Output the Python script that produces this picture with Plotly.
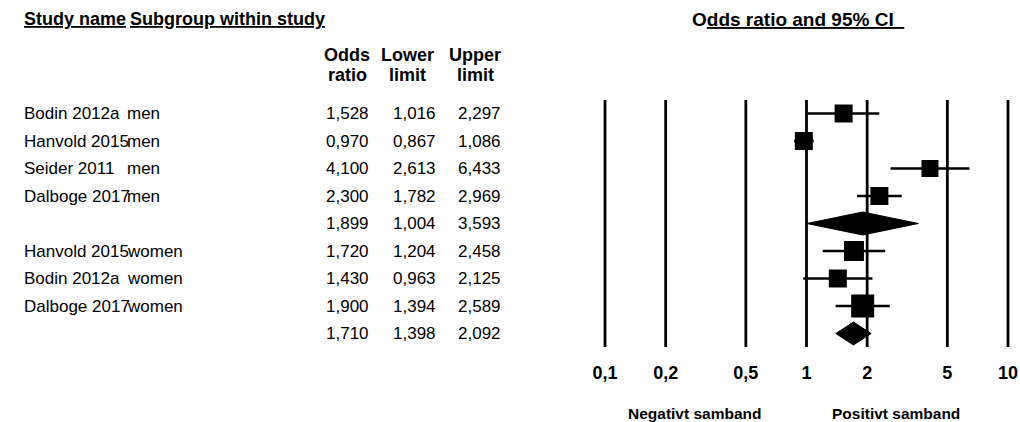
import plotly.graph_objects as go

# ---------------- data ----------------
study_names = ["Bodin 2012a", "Hanvold 2015", "Seider 2011", "Dalboge 2017", "",
               "Hanvold 2015", "Bodin 2012a", "Dalboge 2017", ""]
subgroups = ["men", "men", "men", "men", "", "women", "women", "women", ""]
odds_ratio = [1.528, 0.970, 4.100, 2.300, 1.899, 1.720, 1.430, 1.900, 1.710]
lower_limit = [1.016, 0.867, 2.613, 1.782, 1.004, 1.204, 0.963, 1.394, 1.398]
upper_limit = [2.297, 1.086, 6.433, 2.969, 3.593, 2.458, 2.125, 2.589, 2.092]
is_summary = [False, False, False, False, True, False, False, False, True]
weights_px = [18, 18, 17, 18, 0, 20, 18, 23, 0]  # square marker sizes
tick_vals = [0.1, 0.2, 0.5, 1, 2, 5, 10]
tick_text = ["0,1", "0,2", "0,5", "1", "2", "5", "10"]
col_head_top = ["Odds", "Lower", "Upper"]
col_head_bot = ["ratio", "limit", "limit"]

W, H = 1020, 422
PLOT_BOTTOM = 360  # px
ROW0 = 113.5
ROWSTEP = 27.5
top_val = -ROW0 / ROWSTEP
bot_val = top_val + PLOT_BOTTOM / ROWSTEP

# x axis in log units mapped so 0.1 -> 605px, 10 -> 1008px
px_per_dec = (1008 - 605) / 2.0
xa = -1 - 605 / px_per_dec
xb = xa + W / px_per_dec

FONT = "Liberation Sans, Arial, sans-serif"


def fmt(v):
    return f"{v:.3f}".replace(".", ",")


def xp(px):
    return px / W


def yp(px):
    return (PLOT_BOTTOM - px) / PLOT_BOTTOM


fig = go.Figure()

# vertical reference lines
lx, ly = [], []
y_top = (100 - ROW0) / ROWSTEP
y_bot = (347 - ROW0) / ROWSTEP
for v in tick_vals:
    lx += [v, v, None]
    ly += [y_top, y_bot, None]
fig.add_trace(go.Scatter(x=lx, y=ly, mode="lines",
                         line=dict(color="black", width=2.8),
                         hoverinfo="skip", showlegend=False))

# CI lines for studies
cx, cy = [], []
for i in range(len(odds_ratio)):
    if not is_summary[i]:
        cx += [lower_limit[i], upper_limit[i], None]
        cy += [i, i, None]
fig.add_trace(go.Scatter(x=cx, y=cy, mode="lines",
                         line=dict(color="black", width=2.6),
                         hoverinfo="skip", showlegend=False))

# squares
sx = [odds_ratio[i] for i in range(len(odds_ratio)) if not is_summary[i]]
sy = [i for i in range(len(odds_ratio)) if not is_summary[i]]
ss = [weights_px[i] for i in range(len(odds_ratio)) if not is_summary[i]]
fig.add_trace(go.Scatter(x=sx, y=sy, mode="markers",
                         marker=dict(symbol="square", size=ss, color="black",
                                     opacity=1, line=dict(width=0)),
                         showlegend=False))

# summary diamonds
for i in range(len(odds_ratio)):
    if is_summary[i]:
        h = 11.5 / ROWSTEP
        fig.add_trace(go.Scatter(
            x=[lower_limit[i], odds_ratio[i], upper_limit[i], odds_ratio[i], lower_limit[i]],
            y=[i, i - h, i, i + h, i],
            mode="lines", fill="toself", fillcolor="black",
            line=dict(color="black", width=1), showlegend=False, hoverinfo="skip"))

ann = []
# table rows
for i in range(len(odds_ratio)):
    if study_names[i]:
        ann.append(dict(x=xp(22), y=i, xref="paper", yref="y", text=study_names[i],
                        xanchor="left", yanchor="middle", showarrow=False))
    if subgroups[i]:
        ann.append(dict(x=xp(125), y=i, xref="paper", yref="y", text=subgroups[i],
                        xanchor="left", yanchor="middle", showarrow=False))
    for col_x, arr in ((371, odds_ratio), (438, lower_limit), (503, upper_limit)):
        ann.append(dict(x=xp(col_x), y=i, xref="paper", yref="y", text=fmt(arr[i]),
                        xanchor="right", yanchor="middle", showarrow=False))

# headers
ann.append(dict(x=xp(22), y=yp(19), xref="paper", yref="paper",
                text="<b><u>Study name</u></b>", xanchor="left", yanchor="middle",
                showarrow=False, font=dict(size=18)))
ann.append(dict(x=xp(128), y=yp(19), xref="paper", yref="paper",
                text="<b><u>Subgroup within study</u></b>", xanchor="left", yanchor="middle",
                showarrow=False, font=dict(size=18)))
ann.append(dict(x=xp(690), y=yp(19), xref="paper", yref="paper",
                text="<b>O<u>dds ratio and 95% CI  </u></b>", xanchor="left", yanchor="middle",
                showarrow=False, font=dict(size=19)))
for cx_, t1, t2 in zip((347, 407, 475), col_head_top, col_head_bot):
    ann.append(dict(x=xp(cx_), y=yp(55), xref="paper", yref="paper",
                    text=f"<b>{t1}</b>", xanchor="center", yanchor="middle",
                    showarrow=False, font=dict(size=18)))
    ann.append(dict(x=xp(cx_), y=yp(75), xref="paper", yref="paper",
                    text=f"<b>{t2}</b>", xanchor="center", yanchor="middle",
                    showarrow=False, font=dict(size=18)))

ann.append(dict(x=xp(695), y=yp(413), xref="paper", yref="paper",
                text="<b>Negativt samband</b>", xanchor="center", yanchor="middle",
                showarrow=False, font=dict(size=15.5)))
ann.append(dict(x=xp(896), y=yp(413), xref="paper", yref="paper",
                text="<b>Positivt samband</b>", xanchor="center", yanchor="middle",
                showarrow=False, font=dict(size=15.5)))

fig.update_layout(
    width=W, height=H,
    margin=dict(l=0, r=0, t=0, b=H - PLOT_BOTTOM, pad=0),
    paper_bgcolor="white", plot_bgcolor="white",
    font=dict(family=FONT, size=17, color="black"),
    annotations=ann,
    showlegend=False,
    xaxis=dict(type="log", range=[xa, xb], tickvals=tick_vals, ticktext=tick_text,
               showgrid=False, zeroline=False, showline=False, ticks="",
               tickfont=dict(family=FONT, size=18, color="black", weight="bold"),
               fixedrange=True),
    yaxis=dict(range=[bot_val, top_val], showgrid=False, zeroline=False,
               showline=False, showticklabels=False, ticks="", fixedrange=True),
)

fig.write_html("out.html", config={"displayModeBar": False},
               post_script="document.body.style.margin='0';document.body.style.overflow='hidden';")
